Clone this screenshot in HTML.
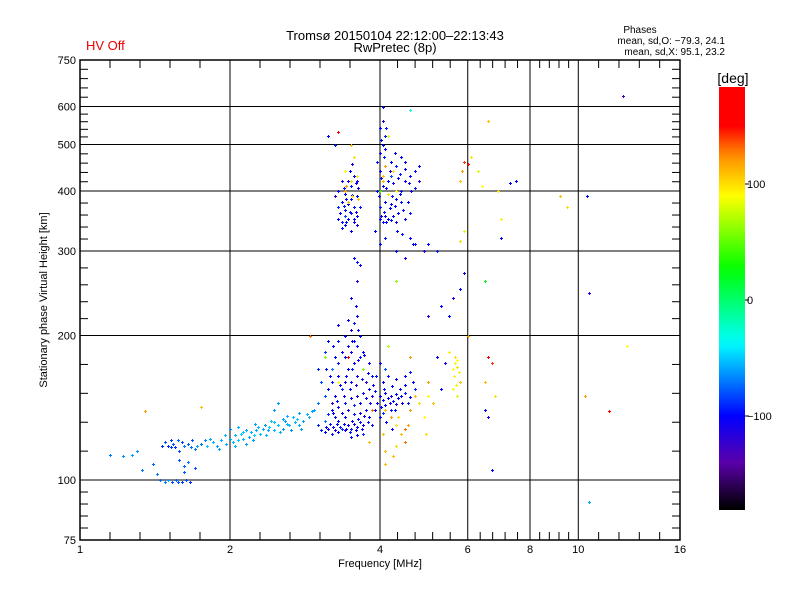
<!DOCTYPE html>
<html><head><meta charset="utf-8"><style>
body{margin:0;background:#fff;}
svg text{font-family:"Liberation Sans",sans-serif;}
</style></head><body>
<svg id="chart" width="800" height="600" xmlns="http://www.w3.org/2000/svg">
<rect x="0" y="0" width="800" height="600" fill="#fff"/>
<text x="395" y="40" font-size="13" text-anchor="middle">Tromsø 20150104 22:12:00–22:13:43</text>
<text x="395" y="52" font-size="13" text-anchor="middle">RwPretec (8p)</text>
<text x="86" y="50" font-size="13" fill="#e00">HV Off</text>
<text x="640" y="33" font-size="10" text-anchor="middle">Phases</text>
<text x="725" y="44" font-size="10" text-anchor="end">mean, sd,O: −79.3, 24.1</text>
<text x="725" y="55" font-size="10" text-anchor="end">mean, sd,X:  95.1, 23.2</text>
<g id="grid"></g>
<g id="marks"></g>
<rect x="80" y="60" width="600" height="480" fill="none" stroke="#000" stroke-width="1.5"/>
<g id="axes"></g>
<text x="380" y="567" font-size="11" text-anchor="middle">Frequency [MHz]</text>
<text x="47" y="300" font-size="11" text-anchor="middle" transform="rotate(-90 47 300)">Stationary phase Virtual Height [km]</text>
<defs><linearGradient id="cg" x1="0" y1="0" x2="0" y2="1"></linearGradient></defs>
<rect x="719" y="87" width="26" height="423" fill="url(#cg)"/>
<text x="733" y="83" font-size="14" text-anchor="middle">[deg]</text>
<g id="cbticks"></g>
</svg>
<script>
// O-mode points
const oFreq=[1.15,1.22,1.27,1.30,1.33,1.40,1.43,1.45,1.48,1.50,1.53,1.56,1.60,1.63,1.66,
1.48,1.50,1.52,1.54,1.57,1.60,1.62,1.65,1.67,1.70,1.72,1.75,1.78,1.55,1.58,
1.58,1.62,1.65,1.70,1.62,
1.80,1.85,1.88,1.92,1.96,2.00,2.03,2.05,2.08,2.10,2.12,2.15,2.18,2.20,2.23,2.26,2.30,2.33,2.36,2.40,2.45,2.50,2.55,2.60,2.65,2.70,2.75,2.80,2.00,2.08,2.15,2.25,2.35,2.45,2.55,2.60,2.68,2.75,2.85,2.45,2.50,
3.0,3.05,3.1,3.15,3.2,3.25,3.3,3.35,3.4,3.45,3.5,3.55,3.6,3.65,3.7,
3.1,3.15,3.2,3.25,3.3,3.35,3.4,3.45,3.5,3.55,3.6,3.65,3.7,3.75,3.8,3.85,3.9,
3.1,3.15,3.2,3.25,3.3,3.35,3.4,3.45,3.5,3.55,3.6,3.65,3.7,3.75,3.8,3.85,
3.2,3.25,3.3,3.35,3.4,3.45,3.5,3.55,3.6,3.65,3.7,3.4,3.5,3.55,3.6,3.45,
3.0,3.05,2.95,3.0,3.1,3.15,3.3,3.75,3.8,3.85,3.9,3.95,3.7,3.6,3.5,3.3,3.2,3.4,3.55,3.65,
4.0,4.05,4.1,4.15,4.2,4.25,4.3,4.35,4.4,4.5,4.6,4.7,4.1,4.2,4.3,4.05,4.15,4.3,4.5,4.6,4.05,4.0,4.1,4.0,
3.3,3.35,3.4,3.45,3.5,3.55,3.6,3.3,3.35,3.4,3.45,3.5,3.55,3.6,3.3,3.4,3.5,3.45,3.6,3.55,3.35,3.5,3.6,3.25,3.65,3.4,
4.0,4.05,4.1,4.15,4.2,4.25,4.3,4.35,4.0,4.1,4.2,4.3,4.4,3.95,4.05,4.15,4.25,4.35,4.5,4.6,4.7,4.0,4.1,4.2,4.3,4.4,4.0,4.05,4.1,4.0,4.05,4.1,3.95,4.2,4.5,4.8,4.4,4.7,4.8,4.5,4.6,
3.55,3.6,3.65,3.5,3.6,4.0,4.1,4.3,4.5,4.6,4.7,3.9,4.9,5.0,5.2,5.3,5.6,5.8,5.9,5.5,5.0,5.2,5.4,5.3,
6.5,6.6,6.7,7.5,7.3,7.0,10.4,10.5,10.5,12.3,3.15,3.25,3.3,3.35];
const oHeight=[113,112,113,115,105,108,103,100,99,100,99,100,99,100,99,
120,118,121,119,121,120,118,119,117,116,118,119,121,117,115,
110,107,109,106,104,
118,120,118,121,119,122,120,124,121,125,122,119,123,126,124,127,125,128,124,129,127,130,128,131,127,132,130,133,128,129,127,131,130,132,134,136,135,138,137,140,145,
130,127,126,128,125,127,126,128,127,130,128,131,129,132,130,
133,137,140,135,142,138,145,140,148,143,150,145,152,148,155,150,153,
150,155,160,150,165,155,160,170,160,175,165,180,170,160,175,165,
170,180,175,185,180,190,185,195,190,200,185,200,205,212,220,215,
145,160,140,170,185,195,195,140,135,130,140,145,125,124,123,133,145,135,137,138,
150,147,152,148,150,146,151,148,150,152,149,155,143,140,144,160,165,162,165,168,138,135,170,175,
350,345,340,350,360,345,355,370,380,365,375,385,370,390,400,395,410,420,420,430,335,330,340,390,370,355,
350,345,355,350,348,355,345,360,370,380,375,385,380,400,410,420,415,425,420,430,440,440,450,460,450,470,480,500,520,540,560,490,460,430,460,450,400,405,420,350,360,
290,285,280,240,260,310,320,300,290,320,310,330,300,310,300,230,240,250,270,220,220,180,175,155,
140,135,105,420,415,320,390,245,90,630,520,500,210,420];
const oPhase=[-70,-65,-60,-62,-70,-75,-70,-75,-70,-60,-80,-75,-85,-80,-90,
-80,-90,-85,-80,-75,-82,-70,-78,-74,-70,-60,-72,-65,-88,-82,
-80,-75,-70,-80,-78,
-50,-55,-60,-55,-58,-60,-52,-55,-50,-48,-55,-60,-58,-54,-50,-56,-52,-58,-55,-50,-55,-52,-60,-56,-62,-55,-58,-60,-65,-55,-58,-60,-62,-50,-58,-56,-54,-60,-55,-62,-60,
-90,-95,-100,-105,-95,-110,-100,-90,-105,-100,-95,-110,-100,-95,-105,
-70,-90,-100,-95,-110,-100,-95,-105,-100,-90,-115,-100,-95,-105,-100,-110,-95,
-80,-100,-95,-105,-100,-90,-110,-100,-95,-100,-105,-95,-100,-120,-100,-95,
-70,-100,-95,-105,-100,-95,-110,-100,-95,-105,-100,-100,-110,-95,-100,-105,
-70,-80,-60,-90,-85,-100,-95,-110,-100,-95,-105,-100,-90,-100,-95,-100,-120,-100,-95,-110,
-100,-95,-105,-100,-110,-95,-100,-105,-100,-95,-100,-90,-100,-95,-110,-100,-95,-105,-100,-95,-90,-100,-80,-105,
-100,-95,-105,-100,-95,-110,-100,-90,-100,-95,-105,-100,-95,-100,-105,-100,-95,-100,-110,-100,-95,-100,-105,-120,-95,-85,
-100,-95,-105,-100,-95,-100,-110,-100,-95,-100,-105,-100,-95,-100,-105,-100,-95,-100,-105,-100,-95,-100,-110,-100,-95,-100,-105,-100,-95,-100,-110,-100,-95,-80,-100,-105,-100,-95,-110,-100,-95,
-100,-95,-105,-100,-110,-100,-95,-100,-105,-100,-95,-100,-110,-100,-95,-100,-110,-100,-105,-100,-115,-100,-105,-100,
-100,-110,-100,-100,-105,-100,-100,-110,-60,-130,-100,-95,-100,-110];
// additional O-mode points (denser regions)
const oExtraFreq=[2.05,2.12,2.22,2.28,2.38,2.42,2.52,2.58,2.63,2.72,2.78,2.88,2.92,1.9,1.95,1.82,1.68,1.52,1.46,1.57,
3.12,3.18,3.22,3.28,3.32,3.38,3.42,3.48,3.52,3.58,3.62,3.68,3.72,3.78,3.22,3.28,3.38,3.48,3.58,3.68,3.78,3.32,3.42,3.52,3.62,3.72,3.82,3.88,3.92,3.18,3.12,3.22,3.52,3.62,3.58,
4.02,4.08,4.18,4.22,4.28,4.38,4.42,4.48,4.55,4.65,4.12,4.22,
3.32,3.38,3.42,3.48,3.52,3.58,3.62,3.38,3.48,3.52,3.58,3.42,3.55,
4.02,4.08,4.12,4.18,4.22,4.28,4.38,4.45,4.55,4.62,4.02,4.08,4.12,4.18,4.28,4.38,4.48,4.58,4.02,4.12,4.05,3.98,4.32,4.42,4.65];
const oExtraHeight=[118,126,121,129,127,133,126,133,130,134,128,135,139,116,124,122,121,117,118,99,
129,131,129,131,129,131,128,126,133,127,134,128,136,132,138,146,150,155,158,162,167,158,165,170,178,182,145,158,165,165,170,190,195,205,230,
142,155,145,157,140,155,145,158,145,160,132,128,
360,372,385,362,392,362,405,405,440,455,415,345,350,
355,362,345,368,390,372,395,365,380,400,425,470,405,440,480,435,445,415,510,540,600,390,330,325,310];
const oExtraPhase=[-55,-50,-60,-55,-58,-52,-56,-60,-55,-50,-60,-55,-58,-60,-55,-58,-80,-85,-90,-80,
-100,-95,-110,-105,-95,-100,-110,-95,-100,-105,-95,-100,-110,-95,-100,-95,-105,-100,-110,-95,-100,-105,-100,-95,-110,-100,-105,-100,-95,-100,-110,-100,-100,-95,-100,
-100,-95,-110,-100,-95,-100,-105,-100,-95,-100,-100,-105,
-100,-95,-105,-100,-95,-110,-100,-95,-100,-105,-100,-95,-100,
-100,-95,-105,-100,-95,-105,-100,-95,-100,-105,-100,-95,-100,-110,-100,-95,-100,-105,-100,-95,-100,-105,-100,-95,-100];
// X-mode & other points
const xFreq=[4.1,4.2,4.3,4.4,4.5,4.6,4.7,4.8,4.9,5.0,4.1,4.3,4.5,4.15,4.6,3.85,3.8,
5.6,5.65,5.7,5.75,5.6,5.7,5.8,5.65,5.5,6.6,6.7,6.5,6.8,
5.8,5.9,5.8,5.85,5.9,6.0,6.1,6.3,6.4,6.6,6.9,7.0,9.2,9.5,
3.4,3.45,3.5,3.6,3.3,3.5,3.55,3.4,4.05,4.1,4.25,4.15,4.3,4.0,
3.45,3.3,3.7,3.1,2.9,1.35,1.75,11.5,12.5,10.3,5.1,4.95,5.0,4.1,4.3,4.6,6.5,6.0,
4.05,4.35,4.55,4.25,5.62,5.72,5.68,4.05,4.15,3.42,3.52,3.62];
const xHeight=[140,135,130,125,128,140,150,145,135,160,115,118,120,190,180,140,120,
170,175,172,168,155,150,160,180,185,180,175,160,150,
315,330,420,440,460,455,470,440,410,560,400,350,390,370,
400,380,420,430,530,500,470,440,430,450,440,520,400,400,
180,160,170,180,200,139,142,139,190,150,145,125,150,108,260,590,260,200,
125,135,130,112,165,178,158,420,395,410,390,385];
const xPhase=[110,120,100,110,130,120,110,100,90,120,110,100,130,70,120,130,110,
90,85,100,95,90,80,110,100,95,150,140,110,100,
100,80,110,120,140,150,100,80,90,110,100,95,110,100,
120,110,100,95,150,110,100,90,110,120,100,80,90,40,
150,90,60,60,130,120,110,150,90,120,110,100,90,110,60,-30,20,120,
110,100,120,110,95,90,85,110,100,120,100,110];
// axis tick labels
const yTicks=[75,100,200,300,400,500,600,750];
const xTicks=[1,2,4,6,8,10,16];
const xGrid=[2,4,6,8,10];
const yGrid=[100,200,300,400,500,600];
const cbTicks=[100,0,-100];

const NS='http://www.w3.org/2000/svg';
const X=f=>80+150*Math.log2(f);
const Y=h=>540-480*Math.log10(h/75);
const CB=v=>300-1.16*v;
const stops=[[180,255,0,0],[150,255,0,0],[125,255,140,0],[90,255,255,0],[27,0,255,0],[-37,0,255,255],[-100,0,0,255],[-140,90,0,170],[-180,0,0,0]];
function col(v){
  v=Math.max(-180,Math.min(180,+v||0));
  for(let i=0;i<stops.length-1;i++){const a=stops[i],b=stops[i+1];
    if(v<=a[0]&&v>=b[0]){const t=(a[0]-v)/(a[0]-b[0]);
      return 'rgb('+[1,2,3].map(k=>Math.round(a[k]+(b[k]-a[k])*t)).join(',')+')';}}
  return '#0f0';
}
function mk(tag,attrs,parent){const e=document.createElementNS(NS,tag);for(const k in attrs)e.setAttribute(k,attrs[k]);parent.appendChild(e);return e;}
const grid=document.getElementById('grid'),axes=document.getElementById('axes'),marks=document.getElementById('marks');
xGrid.forEach(f=>{const l=mk('line',{x1:X(f),x2:X(f),y1:60,y2:540,stroke:'#000','stroke-width':1},grid);

});
yGrid.forEach(h=>{const l=mk('line',{x1:80,x2:680,y1:Y(h),y2:Y(h),stroke:'#000','stroke-width':1},grid);

});
for(let i=0;i<xTicks.length-1;i++){const a=X(xTicks[i]),b=X(xTicks[i+1]);
  for(let k=1;k<5;k++){const x=a+(b-a)*k/5;
    const t1=mk('line',{x1:x,x2:x,y1:540,y2:532,stroke:'#000'},axes);
    
    
    const t2=mk('line',{x1:x,x2:x,y1:60,y2:68,stroke:'#000'},axes);
    
    }}
for(let i=0;i<yTicks.length-1;i++){const a=Y(yTicks[i]),b=Y(yTicks[i+1]);
  for(let k=1;k<5;k++){const y=a+(b-a)*k/5;
    const t1=mk('line',{x1:80,x2:88,y1:y,y2:y,stroke:'#000'},axes);
    
    
    const t2=mk('line',{x1:672,x2:680,y1:y,y2:y,stroke:'#000'},axes);
    
    }}
xTicks.forEach(f=>{const t=mk('text',{x:X(f),y:553,'font-size':11,'text-anchor':'middle'},axes);t.textContent=f;

});
yTicks.forEach(h=>{const t=mk('text',{x:76,y:Y(h)+4,'font-size':11,'text-anchor':'end'},axes);t.textContent=h;

});
function plus(f,h,p,name){const x=Math.round(X(f)),y=Math.round(Y(h)),c=col(p);
  const g=mk('path',{d:`M${x-1} ${y}h3v1h-3zM${x} ${y-1}h1v3h-1z`,fill:c,stroke:'none'},marks);
  
  }
oFreq.forEach((f,i)=>plus(f,oHeight[i],oPhase[i],'o-mode-point'));
oExtraFreq.forEach((f,i)=>plus(f,oExtraHeight[i],oExtraPhase[i],'o-mode-point'));
xFreq.forEach((f,i)=>plus(f,xHeight[i],xPhase[i],'x-mode-point'));
const cg=document.getElementById('cg');
for(let v=180;v>=-180;v-=10){mk('stop',{offset:((CB(v)-87)/423).toFixed(4),'stop-color':col(v)},cg);}
const cbt=document.getElementById('cbticks');
cbTicks.forEach(v=>{const l=mk('line',{x1:745,x2:749,y1:CB(v),y2:CB(v),stroke:'#000'},cbt);


const t=mk('text',{x:747,y:CB(v)+4,'font-size':11},cbt);t.textContent=v===-100?'−100':v;

});
</script>
</body></html>
